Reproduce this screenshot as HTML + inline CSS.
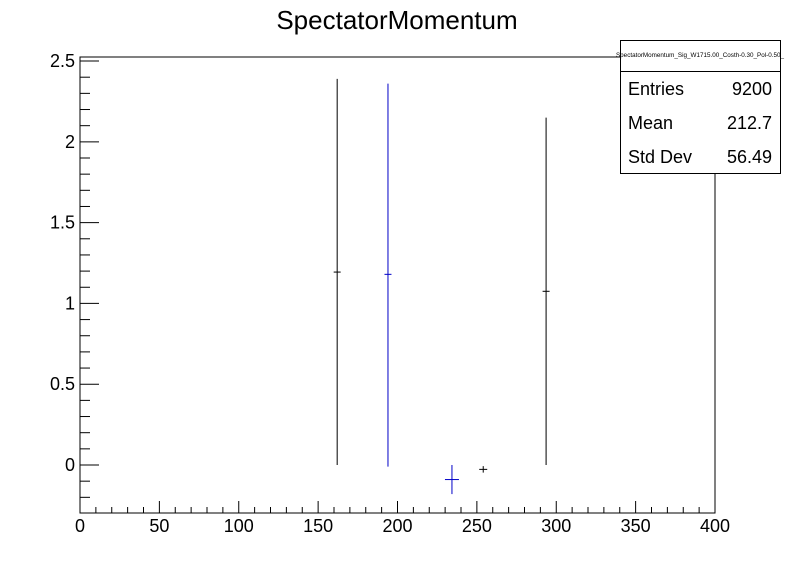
<!DOCTYPE html>
<html><head><meta charset="utf-8"><style>
body{margin:0;background:#fff}
svg{font-family:"Liberation Sans",sans-serif}
</style></head><body>
<svg id="c" width="796" height="572"></svg>
<script>
const xVals=[162,194,234.3,254,293.6];
const yVals=[1.194,1.18,-0.09,-0.027,1.075];
const errLo=[1.194,1.19,0.09,0.02,1.075];
const errHi=[1.196,1.18,0.09,0.02,1.075];
const seriesColors=["#000","#0000c8","#0000c8","#000","#000"];
const xTicks=[0,50,100,150,200,250,300,350,400];
const yTicks=[0,0.5,1,1.5,2,2.5];
const yTickLabels=["0","0.5","1","1.5","2","2.5"];
const statLabels=["Entries","Mean","Std Dev"];
const statValues=["9200","212.7","56.49"];

const L=80,R=715,T=57,B=513,xmin=0,xmax=400,ymin=-0.297,ymax=2.525;
const X=v=>L+(v-xmin)/(xmax-xmin)*(R-L);
const Y=v=>B-(v-ymin)/(ymax-ymin)*(B-T);
const s=document.getElementById('c');const NS="http://www.w3.org/2000/svg";
function mk(t,a,p){const e=document.createElementNS(NS,t);for(const k in a)e.setAttribute(k,a[k]);(p||s).appendChild(e);return e;}
function line(x1,y1,x2,y2,c,p){return mk('line',{x1,y1,x2,y2,stroke:c||'#000','stroke-width':1},p);}
const frame=mk('rect',{x:L,y:T,width:R-L,height:B-T,fill:'none',stroke:'#000'});


const title=mk('text',{x:397,y:29,'font-size':26,'text-anchor':'middle'});title.textContent='SpectatorMomentum';


const xg=mk('g',{});


for(let v=0;v<=400;v+=10){const maj=v%50===0;line(X(v),B,X(v),B-(maj?12:6),'#000',xg);}
xTicks.forEach(v=>{const t=mk('text',{x:X(v),y:532,'font-size':18,'text-anchor':'middle'},xg);t.textContent=v;});
const yg=mk('g',{});


for(let i=-2;i<=25;i++){const v=i/10;if(Y(v)<T)continue;const maj=i%5===0;line(L,Y(v),L+(maj?19:10),Y(v),'#000',yg);}
yTicks.forEach((v,i)=>{const t=mk('text',{x:75,y:Y(v)+6,'font-size':18,'text-anchor':'end'},yg);t.textContent=yTickLabels[i];});
xVals.forEach((xv,i)=>{
 const g=mk('g',{});
 
 
 const c=seriesColors[i];const px=X(xv),py=Y(yVals[i]);
 line(px,Y(yVals[i]-errLo[i]),px,Y(yVals[i]+errHi[i]),c,g);
 const hw=errLo[i]<0.1?(errLo[i]<0.05?4:7):3.5;
 line(px-hw,py,px+hw,py,c,g);
});
const sb=mk('g',{});


mk('rect',{x:620.5,y:40.5,width:160,height:133,fill:'#fff',stroke:'#000'},sb);
line(620,71.5,781,71.5,'#000',sb);
const h=mk('text',{x:700,y:57,'font-size':6.3,'text-anchor':'middle'},sb);h.textContent='SpectatorMomentum_Sig_W1715.00_Costh-0.30_Pol-0.50_';
statLabels.forEach((l,i)=>{const y=95+i*34;
 const a=mk('text',{x:628,y,'font-size':18},sb);a.textContent=l;
 const b=mk('text',{x:772,y,'font-size':18,'text-anchor':'end'},sb);b.textContent=statValues[i];});
</script>
</body></html>
